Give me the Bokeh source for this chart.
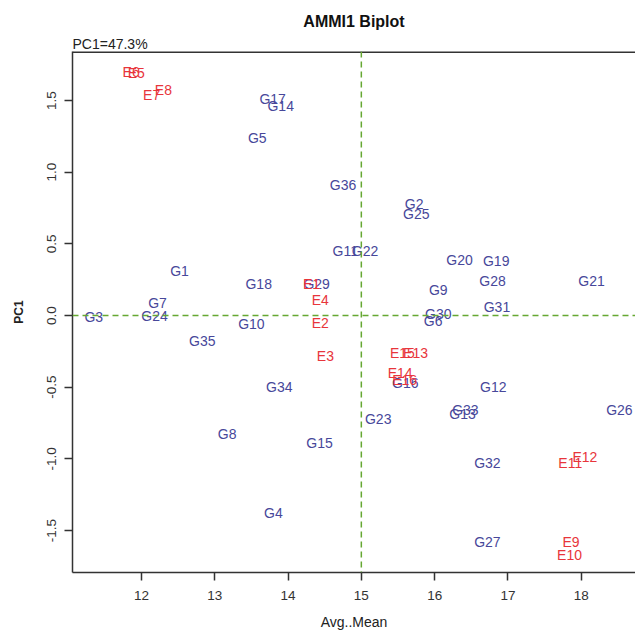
from bokeh.plotting import figure
from bokeh.models import Range1d, Span, Title, FixedTicker, ColumnDataSource, PrintfTickFormatter
from bokeh.core.properties import value
from bokeh.embed import file_html
from bokeh.resources import INLINE

# Environments (red)
env_names = ["E1", "E2", "E3", "E4", "E5", "E6", "E7", "E8", "E9", "E10",
             "E11", "E12", "E13", "E14", "E15", "E16"]
env_mean = [14.32, 14.44, 14.51, 14.44, 11.93, 11.86, 12.14, 12.30, 17.86, 17.84,
            17.85, 18.05, 15.74, 15.53, 15.56, 15.59]
env_pc1 = [0.22, -0.05, -0.28, 0.11, 1.69, 1.70, 1.54, 1.57, -1.58, -1.67,
           -1.03, -0.99, -0.26, -0.40, -0.26, -0.45]

# Genotypes (blue)
gen_names = ["G%d" % i for i in range(1, 37)]
gen_mean = [12.52, 15.72, 11.35, 13.80, 13.58, 15.98, 12.22, 13.17, 16.05, 13.50,
            14.78, 16.80, 16.38, 13.90, 14.43, 15.60, 13.79, 13.60, 16.84, 16.34,
            18.14, 15.05, 15.23, 12.18, 15.75, 18.52, 16.72, 16.79, 14.39, 16.05,
            16.85, 16.72, 16.42, 13.88, 12.83, 14.75]
gen_pc1 = [0.31, 0.78, -0.01, -1.38, 1.24, -0.04, 0.09, -0.83, 0.18, -0.06,
           0.45, -0.50, -0.69, 1.46, -0.89, -0.47, 1.51, 0.22, 0.38, 0.39,
           0.24, 0.45, -0.72, 0.00, 0.71, -0.66, -1.58, 0.24, 0.22, 0.01,
           0.06, -1.03, -0.66, -0.50, -0.18, 0.91]

grand_mean = 15.0
x_ticks = [12, 13, 14, 15, 16, 17, 18]
y_ticks = [-1.5, -1.0, -0.5, 0.0, 0.5, 1.0, 1.5]

FONT = "Liberation Sans"
BLUE = "#47479a"
RED = "#e8353b"
GREEN = "#66a832"

p = figure(width=635, height=636, output_backend="svg", toolbar_location=None,
           x_range=Range1d(11.06, 18.74), y_range=Range1d(-1.793, 1.842),
           title=None, min_border_left=72, min_border_right=0,
           min_border_top=51, min_border_bottom=64)
p.outline_line_color = None
p.xgrid.visible = False
p.ygrid.visible = False
p.background_fill_color = "white"
p.border_fill_color = "white"

# titles
p.add_layout(Title(text="PC1=47.3%", align="left", text_font=FONT,
                   text_font_size="14px", text_font_style="normal",
                   text_color="#222222", standoff=0, offset=0), "above")
p.add_layout(Title(text="AMMI1 Biplot", align="center", text_font=FONT,
                   text_font_size="16px", text_font_style="bold",
                   text_color="#111111", standoff=8), "above")

for ax in (p.xaxis[0], p.yaxis[0]):
    ax.axis_line_color = "#333333"
    ax.axis_line_width = 1.5
    ax.major_tick_line_color = "#333333"
    ax.major_tick_line_width = 1.5
    ax.major_tick_out = 8
    ax.major_tick_in = 0
    ax.minor_tick_line_color = None
    ax.major_label_text_font = FONT
    ax.major_label_text_font_size = "13.5px"
    ax.major_label_text_color = "#333333"
    ax.axis_label_text_font = FONT
    ax.axis_label_text_font_style = "normal"
    ax.axis_label_text_color = "#222222"

p.xaxis.ticker = FixedTicker(ticks=x_ticks)
p.yaxis.ticker = FixedTicker(ticks=y_ticks)
p.yaxis.formatter = PrintfTickFormatter(format="%.1f")
p.xaxis.major_label_standoff = 10
p.yaxis.major_label_standoff = 8
p.yaxis.major_label_orientation = "vertical"
p.xaxis.axis_label = "Avg..Mean"
p.xaxis.axis_label_text_font_size = "14px"
p.xaxis.axis_label_standoff = 11
p.yaxis.axis_label = "PC1"
p.yaxis.axis_label_text_font_size = "12px"
p.yaxis.axis_label_text_font_style = "bold"
p.yaxis.axis_label_standoff = 19

# top frame line
p.add_layout(Span(location=1.842, dimension="width", line_color="#333333", line_width=3))

# reference lines
p.add_layout(Span(location=grand_mean, dimension="height", line_color=GREEN,
                  line_width=1.5, line_dash="6 4"))
p.add_layout(Span(location=0, dimension="width", line_color=GREEN,
                  line_width=1.5, line_dash="6 4"))

gsrc = ColumnDataSource(dict(x=gen_mean, y=gen_pc1, t=gen_names))
esrc = ColumnDataSource(dict(x=env_mean, y=env_pc1, t=env_names))
p.text(x="x", y="y", text="t", source=gsrc, text_color=BLUE,
       text_font=value(FONT), text_font_size="14px",
       text_align="center", text_baseline="middle")
p.text(x="x", y="y", text="t", source=esrc, text_color=RED,
       text_font=value(FONT), text_font_size="14px",
       text_align="center", text_baseline="middle")

open("out.html", "w").write(file_html(p, INLINE))
